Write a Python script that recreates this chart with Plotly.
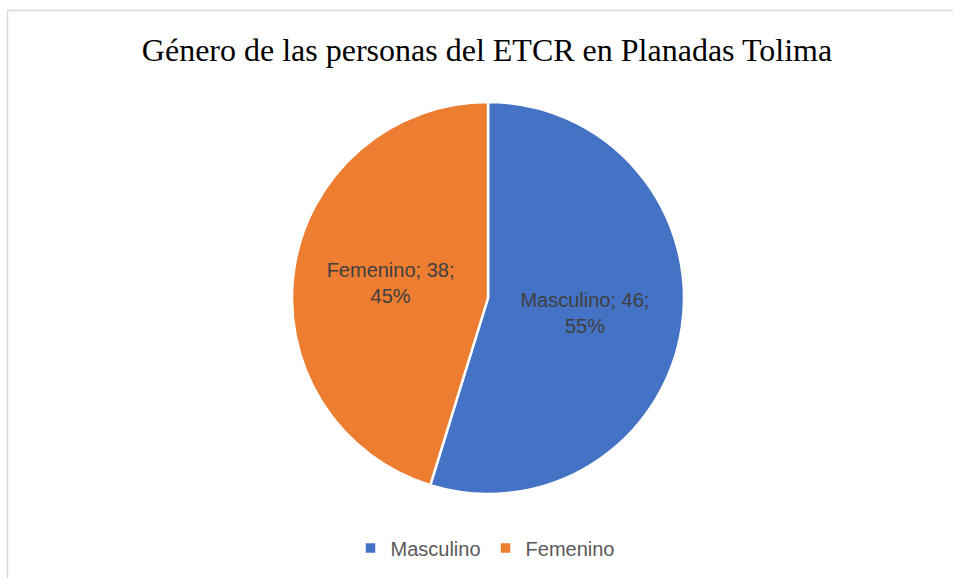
import plotly.graph_objects as go

labels = ["Masculino", "Femenino"]
values = [46, 38]
percents = ["55%", "45%"]
colors = ["#4472C4", "#ED7D31"]

W, H = 953, 578
cx, cy, r = 488, 298, 196

fig = go.Figure(go.Pie(
    labels=labels,
    values=values,
    customdata=percents,
    sort=False,
    direction="clockwise",
    rotation=0,
    marker=dict(colors=colors, line=dict(color="white", width=2.5)),
    texttemplate="%{label}; %{value};<br>%{customdata}",
    textposition="inside",
    insidetextorientation="horizontal",
    textfont=dict(family="Liberation Sans, Arial, sans-serif", size=20, color="#404040"),
    hoverinfo="label+value+percent",
    domain=dict(x=[(cx - r) / W, (cx + r) / W], y=[1 - (cy + r) / H, 1 - (cy - r) / H]),
))

fig.update_layout(
    width=W, height=H,
    margin=dict(l=0, r=0, t=0, b=0),
    paper_bgcolor="white",
    title=dict(text="Género de las personas del ETCR en Planadas Tolima",
               font=dict(family="Liberation Serif, Times New Roman, serif", size=32, color="black"),
               x=487 / W, xanchor="center", y=1 - 50 / H, yanchor="middle"),
    legend=dict(orientation="h", x=485 / W, xanchor="center", y=1 - 548 / H, yanchor="middle",
                font=dict(family="Liberation Sans, Arial, sans-serif", size=20, color="#595959"),
                itemwidth=30),
    shapes=[dict(type="rect", xref="paper", yref="paper",
                 x0=7.5 / W, y0=-0.05, x1=1.05, y1=1 - 10.5 / H,
                 line=dict(color="#D9D9D9", width=1.5), fillcolor="rgba(0,0,0,0)", layer="below")],
)

fig.write_html("out.html", config={"displayModeBar": False},
               post_script="document.body.style.margin='0';document.body.style.overflow='hidden';")
